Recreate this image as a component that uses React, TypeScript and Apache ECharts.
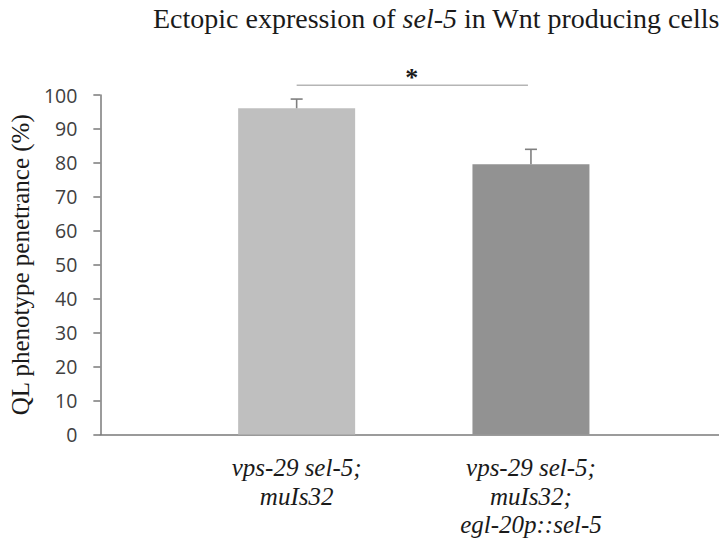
import React, { useEffect, useRef } from "react";
import * as echarts from "echarts";

const categories = ["vps-29 sel-5;\nmuIs32", "vps-29 sel-5;\nmuIs32;\negl-20p::sel-5"];
const means = [96.1, 79.6];
const upper = [98.8, 84.0];
const barColors = ["#bfbfbf", "#929292"];
const yTicks = [0, 10, 20, 30, 40, 50, 60, 70, 80, 90, 100];
const sigPair = [0, 1];
const sigLevel = 102.9;

export default function App() {
  const ref = useRef<HTMLDivElement>(null);
  useEffect(() => {
    document.body.style.margin = "0";
    const chart = echarts.init(ref.current!, null, { renderer: "svg" });
    const gridTop = 95;
    const gridH = 339.5;
    chart.setOption({
      animation: false,
      backgroundColor: "#ffffff",
      title: {
        text: "Ectopic expression of {i|sel-5} in Wnt producing cells",
        left: 153,
        top: 4,
        padding: 0,
        textStyle: {
          fontFamily: "Liberation Serif",
          fontSize: 28,
          fontWeight: "normal",
          color: "#1a1a1a",
          rich: {
            i: { fontFamily: "Liberation Serif", fontSize: 28, fontStyle: "italic", color: "#1a1a1a" },
          },
        },
      },
      grid: [
        { left: 99.5, right: 0, top: gridTop, height: gridH },
        { left: 179.5, width: 468.6, top: gridTop, height: gridH },
      ],
      xAxis: [
        {
          type: "category",
          gridIndex: 0,
          data: [""],
          axisLine: { show: true, lineStyle: { color: "#7a7a7a", width: 1.5 } },
          axisTick: { show: false },
          axisLabel: { show: false },
        },
        {
          type: "category",
          gridIndex: 1,
          data: categories,
          axisLine: { show: false },
          axisTick: { show: false },
          axisLabel: {
            margin: 19,
            formatter: (v: string) => v.split("\n").map((s) => "{i|" + s + "}").join("\n"),
            rich: {
              i: {
                fontFamily: "Liberation Serif",
                fontStyle: "italic",
                fontSize: 25,
                lineHeight: 28.5,
                color: "#1a1a1a",
              },
            },
          },
        },
      ],
      yAxis: [
        {
          type: "value",
          gridIndex: 0,
          min: yTicks[0],
          max: yTicks[yTicks.length - 1],
          interval: 10,
          splitLine: { show: false },
          axisLine: { show: true, lineStyle: { color: "#7a7a7a", width: 1.5 } },
          axisTick: { show: true, length: 7, lineStyle: { color: "#7a7a7a", width: 1.5 } },
          axisLabel: {
            margin: 23,
            fontFamily: "Open Sans",
            fontSize: 19.5,
            color: "#404040",
          },
          name: "QL phenotype penetrance (%)",
          nameLocation: "middle",
          nameGap: 57,
          nameTextStyle: {
            fontFamily: "Liberation Serif",
            fontSize: 25,
            color: "#1a1a1a",
          },
        },
        {
          type: "value",
          gridIndex: 1,
          min: yTicks[0],
          max: yTicks[yTicks.length - 1],
          show: false,
        },
      ],
      series: [
        {
          type: "bar",
          xAxisIndex: 1,
          yAxisIndex: 1,
          barWidth: 117,
          data: means.map((v, i) => ({ value: v, itemStyle: { color: barColors[i] } })),
        },
        {
          type: "custom",
          xAxisIndex: 1,
          yAxisIndex: 1,
          data: means.map((m, i) => [i, m, upper[i]]),
          renderItem: (params: any, api: any) => {
            const x = api.value(0);
            const p0 = api.coord([x, api.value(1)]);
            const p1 = api.coord([x, api.value(2)]);
            const style = { stroke: "#7f7f7f", lineWidth: 1.6 };
            return {
              type: "group",
              children: [
                { type: "line", shape: { x1: p0[0], y1: p0[1], x2: p1[0], y2: p1[1] }, style },
                { type: "line", shape: { x1: p1[0] - 6, y1: p1[1], x2: p1[0] + 6, y2: p1[1] }, style },
              ],
            };
          },
          z: 3,
        },
        {
          type: "custom",
          xAxisIndex: 1,
          yAxisIndex: 1,
          clip: false,
          data: [[sigPair[0], sigPair[1], sigLevel]],
          renderItem: (params: any, api: any) => {
            const a = api.coord([api.value(0), api.value(2)]);
            const b = api.coord([api.value(1), api.value(2)]);
            return {
              type: "group",
              children: [
                {
                  type: "line",
                  shape: { x1: a[0], y1: a[1], x2: b[0] - 3, y2: b[1] },
                  style: { stroke: "#b5b5b5", lineWidth: 1.5 },
                },
                {
                  type: "text",
                  x: (a[0] + b[0]) / 2 - 2,
                  y: a[1] + 5,
                  style: {
                    text: "*",
                    fontFamily: "Liberation Serif",
                    fontSize: 26,
                    fontWeight: "bold",
                    fill: "#1a1a1a",
                    align: "center",
                    verticalAlign: "bottom",
                  },
                },
              ],
            };
          },
          z: 3,
        },
      ],
    });
    return () => chart.dispose();
  }, []);
  return <div ref={ref} style={{ width: 719, height: 540 }} />;
}
